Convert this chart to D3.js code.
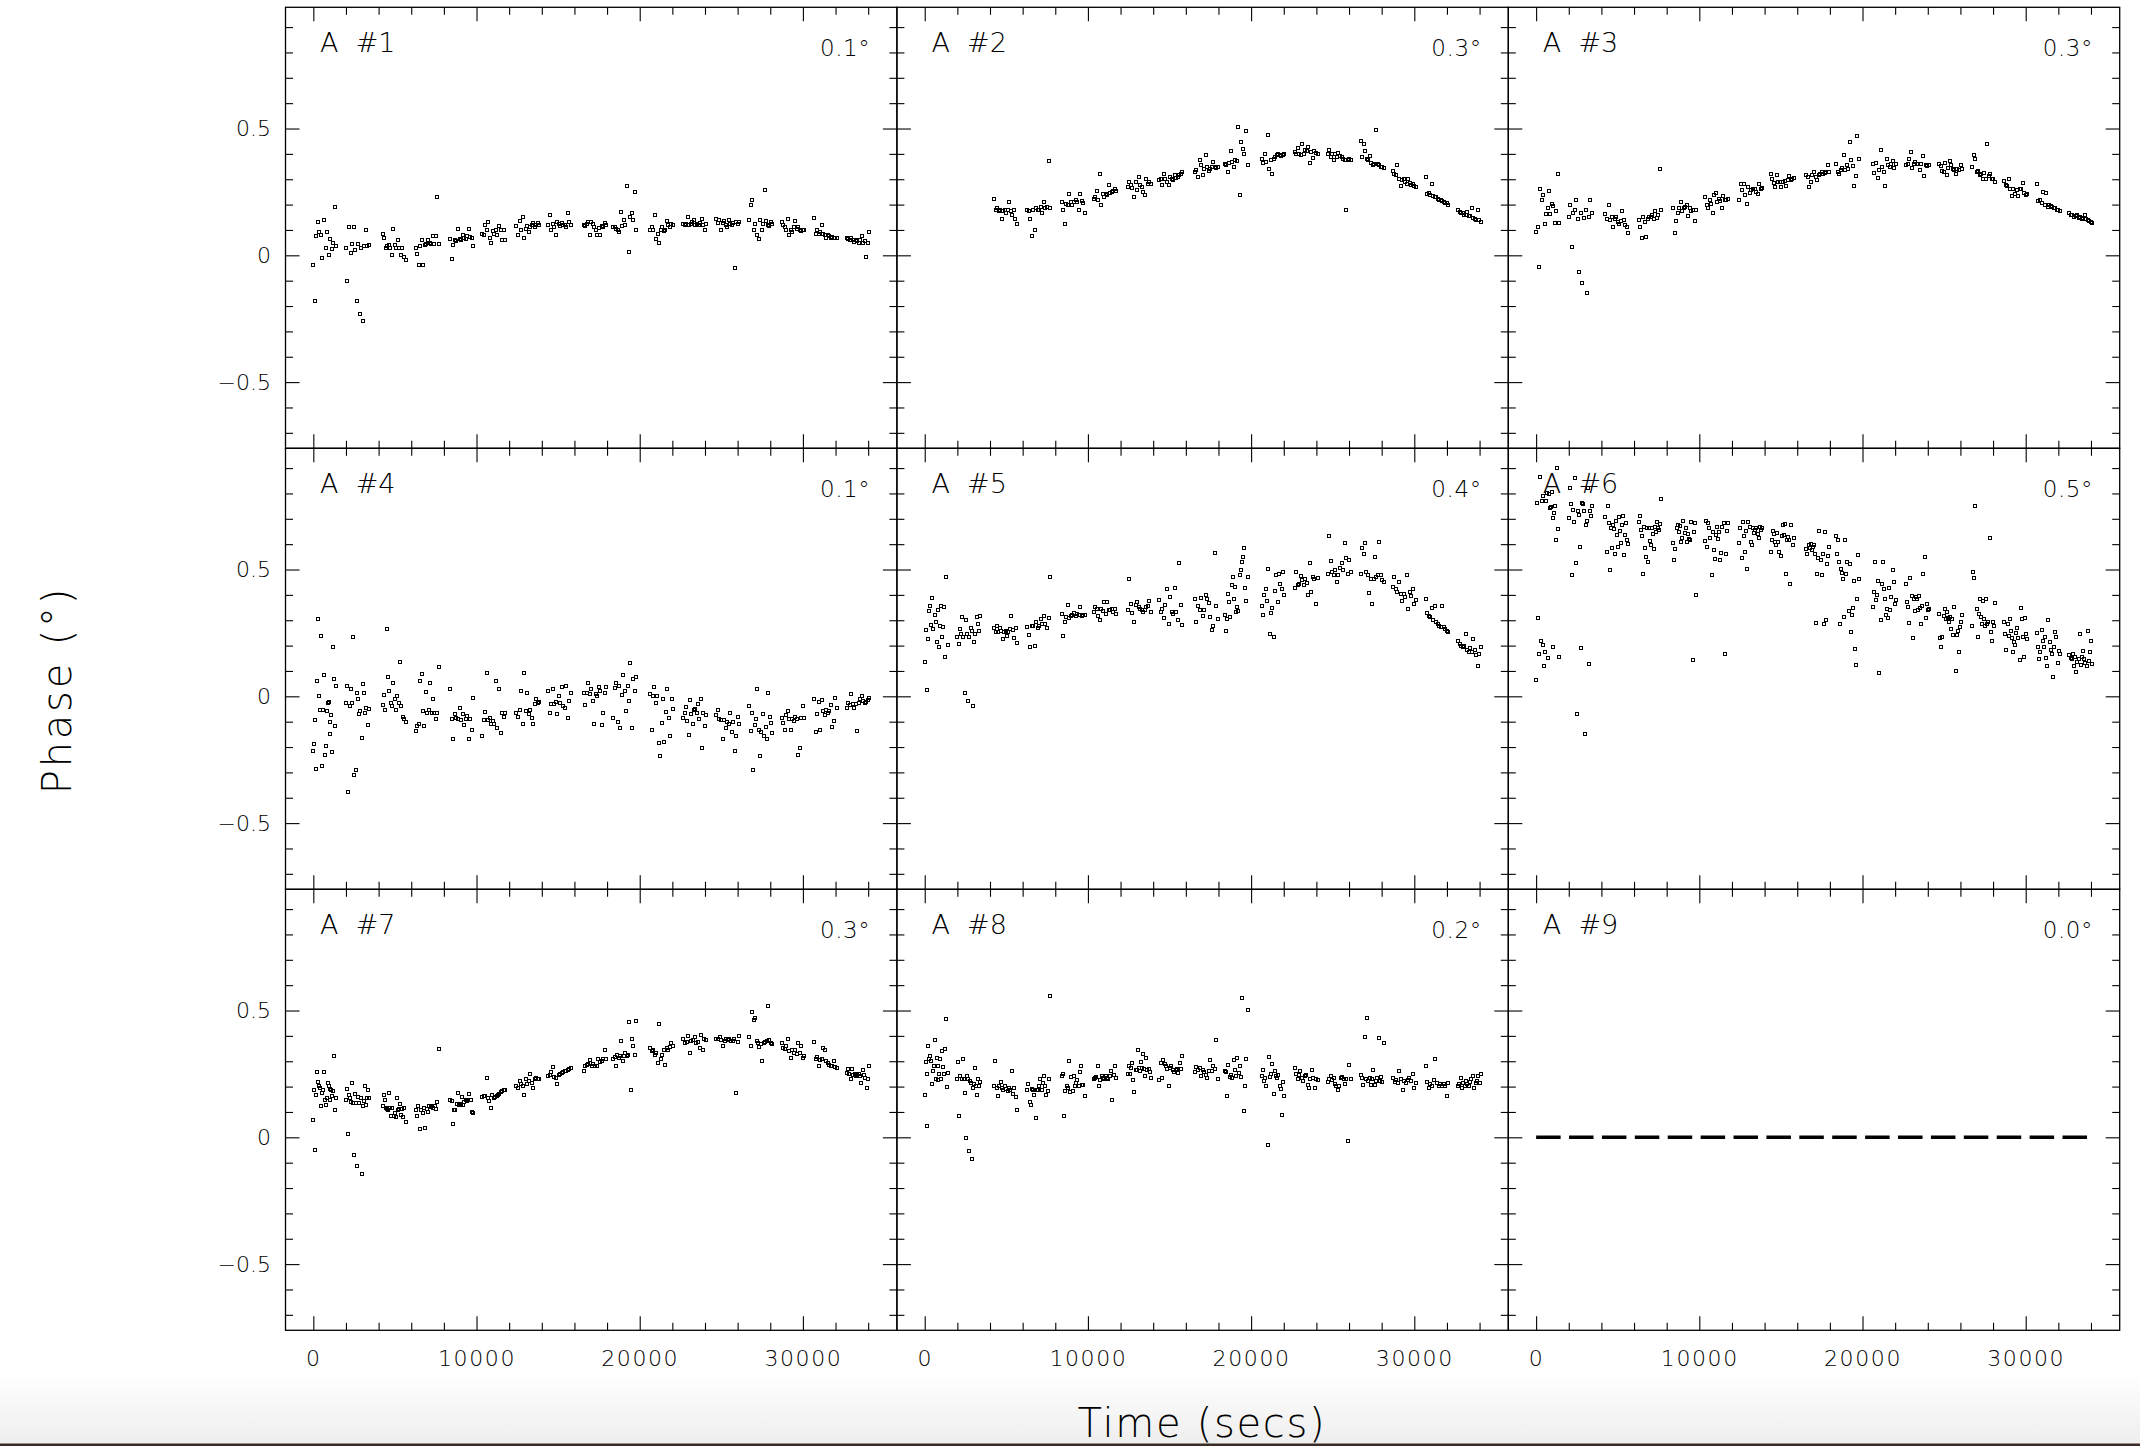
<!DOCTYPE html>
<html><head><meta charset="utf-8">
<script src="https://cdn.jsdelivr.net/npm/d3@7"></script>
<style>
html,body{margin:0;padding:0;background:#fff;}
svg{display:block;}
text{font-family:"DejaVu Sans","Lato",sans-serif;font-weight:200;fill:#000;}
</style></head><body>
<script>
// ---------------- DATA ----------------
const panelLabels = ["A  #1","A  #2","A  #3","A  #4","A  #5","A  #6","A  #7","A  #8","A  #9"];
const panelRms = ["0.1°","0.3°","0.3°","0.1°","0.4°","0.5°","0.3°","0.2°","0.0°"];
const xMajorTicks = [0, 10000, 20000, 30000];
const xMinorTicks = [2000,4000,6000,8000,12000,14000,16000,18000,22000,24000,26000,28000,32000,34000];
const yMajorTicks = [-0.5, 0, 0.5];
const yMinorTicks = [-0.7,-0.6,-0.4,-0.3,-0.2,-0.1,0.1,0.2,0.3,0.4,0.6,0.7,0.8,0.9];
const xTitle = "Time (secs)";
const yTitle = "Phase (°)";
// start time (s) of each scan; every scan lasts scanLength seconds
const scanStarts = [0,2000,4250,6280,8400,10350,12450,14380,16560,18380,20640,22670,24700,26720,28690,30690,32680];
const scanLength = 1400;
// phase (deg) samples per scan, per antenna
const a1 = [
[-0.04,-0.18,0.075,0.13,0.09,0.08,-0.01,0.14,0.03,0.09,0.0,0.065,0.025,0.05,0.19,0.035],
[0.03,-0.10,0.11,0.01,0.045,0.11,0.02,-0.18,0.045,-0.23,0.03,-0.26,0.035,0.10,0.035,0.04],
[0.085,0.07,0.03,0.035,0.04,0.03,0.0,0.105,0.04,0.03,0.06,0.03,0.0,0.03,-0.005,-0.02],
[0.03,0.005,-0.04,0.035,0.06,-0.04,0.04,0.045,0.06,0.05,0.045,0.075,0.045,0.075,0.23,0.045],
[0.065,-0.015,0.04,0.06,0.055,0.105,0.065,0.06,0.08,0.07,0.063,0.075,0.105,0.073,0.07,0.035],
[0.085,0.08,0.12,0.1,0.13,0.07,0.05,0.095,0.085,0.1,0.08,0.115,0.1,0.06,0.1,0.06],
[0.115,0.08,0.135,0.1,0.15,0.07,0.105,0.115,0.093,0.11,0.12,0.128,0.112,0.12,0.128,0.118],
[0.12,0.16,0.1,0.125,0.112,0.082,0.132,0.123,0.115,0.128,0.12,0.118,0.112,0.165,0.132,0.12],
[0.12,0.115,0.123,0.132,0.082,0.132,0.125,0.112,0.1,0.082,0.106,0.082,0.115,0.11,0.128,0.12],
[0.112,0.11,0.105,0.1,0.09,0.17,0.115,0.138,0.12,0.275,0.012,0.15,0.165,0.14,0.25,0.1],
[0.1,0.112,0.1,0.16,0.063,0.086,0.047,0.1,0.112,0.095,0.1,0.136,0.12,0.11,0.125,0.12],
[0.123,0.118,0.125,0.152,0.12,0.123,0.13,0.139,0.12,0.125,0.118,0.128,0.145,0.12,0.1,0.125],
[0.145,0.128,0.139,0.1,0.128,0.136,0.12,0.112,0.139,0.125,0.12,0.128,-0.05,0.132,0.125,0.13],
[0.14,0.2,0.217,0.1,0.125,0.082,0.063,0.139,0.1,0.125,0.257,0.136,0.12,0.115,0.132,0.125],
[0.132,0.12,0.112,0.1,0.145,0.08,0.1,0.092,0.112,0.136,0.105,0.112,0.1,0.095,0.1,0.098],
[0.148,0.086,0.1,0.084,0.09,0.118,0.086,0.08,0.067,0.08,0.075,0.067,0.073,0.07,0.07,0.068],
[0.07,0.065,0.06,0.067,0.062,0.054,0.06,0.055,0.05,0.06,0.076,0.05,0.055,-0.005,0.05,0.09]
];
const a2 = [
[],
[],
[0.224,0.18,0.185,0.175,0.178,0.145,0.175,0.18,0.165,0.178,0.21,0.175,0.158,0.178,0.145,0.125],
[0.178,0.175,0.145,0.076,0.178,0.1,0.185,0.18,0.178,0.19,0.165,0.21,0.185,0.19,0.37,0.185],
[0.21,0.18,0.125,0.204,0.198,0.24,0.21,0.2,0.21,0.217,0.21,0.178,0.243,0.215,0.205,0.168],
[0.224,0.23,0.254,0.217,0.322,0.198,0.24,0.23,0.243,0.237,0.279,0.246,0.25,0.254,0.26,0.254],
[0.27,0.29,0.276,0.266,0.23,0.29,0.257,0.31,0.276,0.27,0.25,0.237,0.302,0.283,0.29,0.28],
[0.296,0.302,0.276,0.322,0.3,0.29,0.276,0.309,0.3,0.296,0.315,0.305,0.309,0.315,0.32,0.329],
[0.329,0.335,0.309,0.377,0.355,0.315,0.342,0.394,0.348,0.332,0.34,0.348,0.368,0.348,0.345,0.35],
[0.359,0.355,0.329,0.364,0.411,0.368,0.348,0.374,0.37,0.505,0.237,0.446,0.42,0.4,0.492,0.355],
[0.381,0.364,0.4,0.368,0.475,0.342,0.374,0.319,0.381,0.387,0.394,0.4,0.394,0.39,0.395,0.4],
[0.407,0.398,0.424,0.4,0.394,0.44,0.4,0.414,0.41,0.427,0.364,0.407,0.385,0.41,0.405,0.4],
[0.4,0.416,0.387,0.4,0.374,0.398,0.387,0.403,0.39,0.387,0.38,0.374,0.178,0.374,0.38,0.375],
[0.45,0.387,0.44,0.41,0.381,0.374,0.39,0.364,0.355,0.361,0.496,0.36,0.355,0.35,0.35,0.346],
[0.332,0.322,0.315,0.357,0.302,0.272,0.296,0.3,0.29,0.283,0.302,0.285,0.276,0.28,0.272,0.27],
[0.309,0.243,0.246,0.237,0.28,0.235,0.23,0.228,0.224,0.22,0.217,0.215,0.21,0.207,0.205,0.2],
[0.178,0.171,0.168,0.165,0.16,0.158,0.171,0.154,0.155,0.185,0.149,0.145,0.139,0.18,0.14,0.132]
];
const a3 = [
[0.09,0.11,-0.047,0.263,0.22,0.237,0.123,0.161,0.185,0.254,0.162,0.204,0.194,0.128,0.175,0.319,0.128],
[0.152,0.198,0.031,0.168,0.18,0.217,0.145,-0.064,0.165,-0.11,0.149,0.178,-0.147,0.152,0.217,0.165],
[0.162,0.145,0.2,0.139,0.152,0.112,0.145,0.15,0.132,0.123,0.136,0.175,0.14,0.12,0.112,0.089],
[0.141,0.112,0.07,0.152,0.132,0.073,0.145,0.15,0.152,0.158,0.145,0.175,0.149,0.158,0.342,0.178],
[0.185,0.089,0.136,0.165,0.188,0.21,0.175,0.185,0.19,0.2,0.154,0.185,0.175,0.18,0.135,0.18],
[0.228,0.2,0.185,0.22,0.204,0.165,0.237,0.246,0.21,0.224,0.215,0.185,0.233,0.217,0.22,0.222],
[0.22,0.28,0.257,0.283,0.237,0.204,0.27,0.246,0.257,0.263,0.26,0.25,0.243,0.283,0.263,0.265],
[0.319,0.302,0.285,0.27,0.315,0.29,0.288,0.27,0.29,0.293,0.272,0.296,0.311,0.298,0.3,0.306],
[0.315,0.309,0.27,0.29,0.315,0.329,0.309,0.296,0.315,0.322,0.329,0.32,0.325,0.33,0.355,0.33],
[0.359,0.329,0.322,0.335,0.346,0.394,0.335,0.357,0.34,0.446,0.374,0.351,0.274,0.313,0.469,0.381],
[0.359,0.325,0.364,0.306,0.335,0.416,0.348,0.329,0.272,0.381,0.355,0.35,0.361,0.372,0.346,0.36],
[0.355,0.361,0.381,0.407,0.346,0.361,0.368,0.359,0.36,0.338,0.359,0.39,0.314,0.355,0.351,0.355],
[0.359,0.351,0.332,0.329,0.364,0.315,0.346,0.372,0.355,0.34,0.338,0.322,0.342,0.335,0.355,0.34],
[0.348,0.394,0.381,0.329,0.332,0.315,0.319,0.302,0.325,0.302,0.44,0.311,0.319,0.302,0.3,0.29],
[0.293,0.276,0.272,0.302,0.263,0.233,0.263,0.243,0.257,0.233,0.26,0.263,0.285,0.245,0.237,0.24],
[0.283,0.215,0.22,0.207,0.25,0.198,0.246,0.19,0.198,0.195,0.19,0.188,0.185,0.18,0.178,0.175],
[0.165,0.16,0.158,0.152,0.155,0.158,0.149,0.15,0.145,0.148,0.158,0.142,0.139,0.135,0.13,0.128]
];
const a4 = [
[-0.217,-0.19,-0.094,-0.286,0.06,0.306,0.0,-0.054,0.238,-0.274,-0.052,0.083,-0.23,-0.197,-0.058,-0.025,-0.022,-0.1,-0.15,-0.075,-0.22,0.194,0.07,-0.118,0.04],
[-0.025,0.04,-0.377,-0.04,0.03,-0.025,0.234,-0.31,-0.292,0.015,-0.01,-0.071,-0.058,-0.164,0.048,0.015,-0.065,-0.045,-0.115,-0.049],
[-0.036,0.004,-0.052,0.266,0.078,0.021,-0.025,-0.038,0.052,-0.012,-0.052,0.0,-0.025,0.135,-0.038,-0.081,-0.089,-0.1],
[-0.138,-0.118,-0.111,0.06,0.087,-0.058,-0.118,0.017,-0.065,-0.052,0.054,-0.065,-0.012,-0.065,-0.091,-0.065,0.115],
[0.029,-0.089,-0.168,-0.071,-0.085,-0.089,-0.045,-0.094,-0.071,-0.115,-0.089,-0.078,-0.17,-0.089,-0.131,-0.005],
[-0.155,-0.094,-0.062,0.091,-0.094,-0.085,-0.111,-0.098,-0.111,0.061,-0.124,0.028,-0.144,-0.065,-0.08,-0.065],
[-0.065,-0.081,-0.052,0.021,-0.111,0.091,-0.058,0.012,-0.071,-0.052,-0.085,-0.111,-0.032,-0.009,-0.025,-0.022],
[0.021,-0.065,-0.032,0.03,-0.032,-0.022,-0.071,0.0,-0.025,0.038,-0.038,-0.045,0.041,-0.085,-0.019,0.015],
[0.015,-0.036,0.015,0.052,0.008,0.03,-0.019,-0.111,0.008,0.0,0.038,0.021,-0.115,-0.065,0.012,0.038],
[-0.085,0.034,0.052,-0.102,0.041,-0.124,0.004,0.083,0.021,-0.058,0.041,-0.019,0.131,-0.124,0.067,0.021,0.078],
[0.008,-0.134,0.0,0.038,-0.025,0.0,-0.186,-0.237,-0.104,-0.012,-0.181,-0.062,0.028,-0.085,-0.157,-0.012,-0.049],
[-0.085,-0.065,-0.041,-0.098,-0.151,-0.015,-0.071,-0.111,-0.052,-0.049,-0.065,-0.032,-0.091,-0.009,-0.204,-0.065,-0.118,-0.075],
[-0.075,-0.052,-0.091,-0.094,-0.168,-0.094,-0.124,-0.102,-0.111,-0.065,-0.141,-0.102,-0.217,-0.157,-0.081,-0.11],
[-0.038,-0.138,-0.065,-0.292,-0.115,-0.091,0.028,-0.131,-0.237,-0.141,-0.071,-0.157,-0.12,-0.168,0.015,-0.081,-0.104,-0.144],
[-0.085,-0.107,-0.134,-0.075,-0.058,-0.089,-0.134,-0.091,-0.098,-0.081,-0.09,-0.23,-0.204,-0.085,-0.038,-0.085],
[-0.012,-0.141,-0.071,-0.022,-0.134,-0.015,-0.058,-0.075,-0.052,-0.065,-0.058,-0.036,-0.122,-0.098,-0.005,-0.045],
[-0.045,-0.025,-0.036,0.008,-0.032,-0.045,-0.03,-0.138,-0.025,-0.012,0.001,-0.02,-0.025,-0.022,-0.015,-0.005]
];
const a5 = [
[0.134,0.262,0.024,0.226,0.335,0.357,0.282,0.389,0.266,0.321,0.292,0.213,0.341,0.194,0.279,0.356,0.233,0.275,0.352,0.155,0.472,0.204],
[0.233,0.206,0.266,0.246,0.312,0.233,0.015,0.299,0.246,-0.02,0.233,0.269,0.259,-0.037,0.213,0.246,0.312,0.286,0.259,0.316],
[0.269,0.255,0.279,0.253,0.269,0.259,0.226,0.255,0.259,0.237,0.255,0.266,0.316,0.263,0.229,0.269,0.21],
[0.272,0.242,0.196,0.276,0.279,0.198,0.295,0.269,0.279,0.306,0.286,0.316,0.284,0.269,0.308,0.47],
[0.325,0.237,0.292,0.312,0.361,0.308,0.316,0.321,0.329,0.316,0.325,0.319,0.352,0.316,0.319,0.32],
[0.332,0.352,0.343,0.316,0.299,0.345,0.335,0.372,0.325,0.372,0.339,0.34,0.345,0.332,0.345,0.325],
[0.339,0.464,0.365,0.329,0.295,0.361,0.372,0.352,0.345,0.339,0.332,0.339,0.352,0.358,0.374,0.332],
[0.378,0.332,0.343,0.308,0.361,0.422,0.286,0.392,0.332,0.325,0.427,0.332,0.299,0.524,0.361,0.282],
[0.382,0.292,0.358,0.339,0.388,0.316,0.339,0.401,0.385,0.369,0.312,0.263,0.279,0.567,0.358,0.306],
[0.321,0.259,0.303,0.405,0.372,0.312,0.438,0.471,0.382,0.431,0.332,0.352,0.335,0.48,0.497,0.53,0.55,0.583,0.427,0.374,0.471],
[0.356,0.319,0.398,0.422,0.374,0.501,0.246,0.329,0.348,0.233,0.414,0.478,0.372,0.484,0.444,0.425,0.491,0.398],
[0.427,0.491,0.438,0.444,0.475,0.458,0.438,0.462,0.448,0.401,0.524,0.411,0.471,0.464,0.365,0.467],
[0.484,0.634,0.533,0.491,0.478,0.497,0.451,0.478,0.507,0.524,0.497,0.603,0.544,0.484,0.537,0.491],
[0.484,0.586,0.563,0.603,0.491,0.48,0.409,0.464,0.365,0.464,0.55,0.471,0.478,0.61,0.478,0.458,0.451],
[0.431,0.471,0.422,0.411,0.451,0.405,0.374,0.405,0.392,0.478,0.345,0.411,0.396,0.425,0.365,0.38],
[0.382,0.329,0.316,0.312,0.348,0.299,0.356,0.295,0.285,0.279,0.272,0.358,0.272,0.266,0.259,0.253],
[0.22,0.206,0.2,0.193,0.2,0.246,0.184,0.173,0.189,0.176,0.226,0.184,0.163,0.118,0.167,0.193]
];
const a6 = [
[0.065,0.762,0.31,0.167,0.865,0.218,0.771,0.202,0.788,0.12,0.173,0.769,0.802,0.151,0.798,0.742,0.745,0.806,0.702,0.193,0.722,0.749,0.616,0.901,0.66,0.157],
[0.702,0.821,0.758,0.478,0.735,0.687,0.861,0.524,-0.069,0.729,0.716,0.59,0.19,0.762,0.758,0.731,-0.148,0.676,0.692,0.821,0.127,0.729,0.713,0.749],
[0.709,0.57,0.749,0.683,0.5,0.663,0.583,0.676,0.66,0.563,0.692,0.637,0.59,0.709,0.65,0.603,0.676,0.713,0.557,0.637,0.683,0.616,0.599],
[0.687,0.712,0.656,0.632,0.484,0.669,0.583,0.55,0.663,0.528,0.665,0.612,0.597,0.663,0.639,0.579,0.669,0.647,0.689,0.665,0.656,0.679,0.779],
[0.603,0.537,0.581,0.663,0.676,0.647,0.673,0.607,0.623,0.692,0.643,0.663,0.61,0.639,0.62,0.616,0.689,0.143,0.647,0.683,0.398],
[0.612,0.692,0.59,0.683,0.663,0.623,0.478,0.647,0.577,0.541,0.636,0.669,0.62,0.647,0.537,0.567,0.669,0.683,0.167,0.563,0.65,0.683],
[0.603,0.665,0.544,0.689,0.634,0.571,0.652,0.501,0.687,0.669,0.607,0.597,0.663,0.643,0.656,0.665,0.639,0.623,0.669,0.656,0.663],
[0.57,0.616,0.652,0.639,0.607,0.597,0.643,0.61,0.571,0.554,0.634,0.676,0.636,0.679,0.484,0.616,0.63,0.616,0.444,0.676,0.597,0.623],
[0.581,0.563,0.597,0.583,0.599,0.577,0.59,0.597,0.563,0.29,0.484,0.546,0.652,0.537,0.478,0.563,0.286,0.647,0.299,0.52,0.554,0.59],
[0.634,0.563,0.616,0.53,0.286,0.501,0.488,0.462,0.312,0.616,0.484,0.53,0.335,0.52,0.255,0.321,0.348,0.454,0.187,0.123,0.385,0.557,0.462],
[0.352,0.411,0.528,0.378,0.401,0.454,0.091,0.299,0.444,0.53,0.425,0.382,0.319,0.345,0.308,0.427,0.339,0.392,0.497,0.451,0.365,0.378],
[0.444,0.372,0.352,0.29,0.467,0.396,0.229,0.382,0.335,0.392,0.382,0.339,0.396,0.348,0.286,0.358,0.484,0.55,0.308,0.365,0.339,0.345],
[0.325,0.229,0.193,0.233,0.316,0.343,0.306,0.332,0.308,0.295,0.312,0.266,0.303,0.242,0.352,0.1,0.242,0.259,0.173,0.272,0.292,0.321],
[0.279,0.491,0.468,0.749,0.343,0.233,0.325,0.382,0.312,0.286,0.374,0.306,0.279,0.382,0.286,0.295,0.623,0.253,0.22,0.292,0.279,0.369],
[0.295,0.246,0.184,0.286,0.237,0.306,0.259,0.229,0.176,0.216,0.202,0.25,0.269,0.229,0.144,0.348,0.306,0.233,0.157,0.308,0.246,0.226],
[0.25,0.193,0.147,0.173,0.263,0.22,0.193,0.233,0.153,0.118,0.299,0.216,0.184,0.167,0.078,0.193,0.253,0.233,0.131,0.18,0.167],
[0.163,0.153,0.147,0.167,0.12,0.157,0.097,0.134,0.149,0.246,0.123,0.157,0.18,0.147,0.131,0.12,0.259,0.14,0.176,0.22,0.127]
];
const a7 = [
[0.067,0.186,-0.049,0.168,0.257,0.217,0.204,0.195,0.122,0.175,0.188,0.257,0.149,0.129,0.155,0.214,0.204,0.149,0.191,0.186,0.162,0.182,0.32,0.107,0.155],
[0.146,0.192,0.014,0.168,0.155,0.138,0.214,0.136,-0.068,0.172,0.136,-0.112,0.159,0.136,0.155,-0.143,0.122,0.142,0.201,0.129,0.155,0.186,0.155],
[0.122,0.168,0.146,0.116,0.112,0.109,0.175,0.116,0.083,0.116,0.083,0.096,0.08,0.155,0.107,0.112,0.133,0.089,0.112,0.08,0.116,0.059],
[0.107,0.083,0.122,0.033,0.109,0.096,0.116,0.037,0.112,0.099,0.122,0.12,0.125,0.116,0.122,0.112,0.138,0.349],
[0.149,0.142,0.054,0.107,0.107,0.133,0.175,0.129,0.133,0.159,0.129,0.138,0.149,0.142,0.149,0.172,0.149,0.099,0.096],
[0.159,0.164,0.162,0.234,0.155,0.142,0.116,0.168,0.155,0.159,0.164,0.168,0.172,0.178,0.182,0.186,0.186],
[0.201,0.195,0.221,0.212,0.204,0.168,0.228,0.212,0.221,0.251,0.214,0.195,0.228,0.234,0.23,0.228],
[0.243,0.247,0.257,0.278,0.238,0.234,0.212,0.247,0.251,0.254,0.256,0.261,0.261,0.264,0.27,0.274],
[0.261,0.28,0.287,0.291,0.304,0.283,0.291,0.283,0.28,0.307,0.296,0.3,0.307,0.343,0.309],
[0.309,0.317,0.283,0.326,0.313,0.32,0.379,0.3,0.32,0.333,0.322,0.326,0.454,0.186,0.386,0.362,0.326,0.458],
[0.353,0.339,0.346,0.326,0.333,0.293,0.445,0.309,0.326,0.346,0.287,0.353,0.346,0.357,0.372,0.359],
[0.388,0.37,0.375,0.401,0.333,0.379,0.383,0.396,0.372,0.375,0.353,0.405,0.343,0.388,0.383],
[0.388,0.386,0.396,0.383,0.362,0.379,0.388,0.383,0.388,0.38,0.379,0.386,0.175,0.375,0.399],
[0.396,0.362,0.493,0.464,0.471,0.379,0.372,0.357,0.366,0.3,0.37,0.375,0.379,0.517,0.383,0.37,0.366],
[0.372,0.353,0.349,0.359,0.386,0.339,0.313,0.346,0.333,0.343,0.33,0.372,0.333,0.359,0.313,0.32],
[0.376,0.307,0.317,0.283,0.304,0.307,0.353,0.343,0.3,0.293,0.287,0.28,0.283,0.3,0.278,0.274],
[0.254,0.27,0.251,0.23,0.27,0.247,0.251,0.241,0.247,0.251,0.241,0.214,0.264,0.247,0.234,0.195,0.228,0.28]
];
const a8 = [
[0.168,0.296,0.251,0.046,0.362,0.307,0.322,0.3,0.212,0.261,0.283,0.383,0.23,0.313,0.225,0.28,0.251,0.309,0.23,0.339,0.278,0.251,0.349,0.467,0.199,0.254],
[0.228,0.296,0.086,0.243,0.23,0.309,0.228,0.175,-0.003,0.243,0.228,-0.055,0.221,0.214,-0.086,0.195,0.212,0.274,0.204,0.168,0.228,0.201,0.217],
[0.204,0.3,0.195,0.164,0.201,0.217,0.195,0.186,0.204,0.191,0.182,0.195,0.188,0.261,0.172,0.195,0.159,0.107],
[0.186,0.212,0.138,0.129,0.191,0.186,0.168,0.076,0.186,0.186,0.204,0.23,0.188,0.214,0.243,0.204,0.168,0.182,0.23,0.559],
[0.241,0.251,0.086,0.182,0.201,0.195,0.3,0.178,0.238,0.182,0.243,0.204,0.214,0.225,0.204,0.257,0.283,0.208,0.208,0.164],
[0.228,0.234,0.238,0.28,0.201,0.225,0.243,0.234,0.228,0.243,0.234,0.228,0.241,0.261,0.146,0.247,0.28,0.234],
[0.251,0.28,0.251,0.274,0.293,0.225,0.178,0.267,0.264,0.343,0.274,0.261,0.296,0.274,0.33,0.27,0.243,0.313,0.264,0.27,0.257,0.234],
[0.225,0.293,0.234,0.304,0.291,0.28,0.27,0.201,0.274,0.28,0.267,0.257,0.264,0.27,0.254,0.293,0.27,0.322],
[0.257,0.278,0.267,0.274,0.243,0.264,0.257,0.247,0.234,0.261,0.304,0.261,0.283,0.27,0.383,0.228],
[0.261,0.257,0.164,0.287,0.238,0.247,0.234,0.304,0.264,0.243,0.313,0.254,0.28,0.238,0.55,0.103,0.204,0.309,0.501],
[0.243,0.267,0.221,0.234,0.204,-0.029,0.317,0.238,0.251,0.291,0.172,0.261,0.243,0.234,0.247,0.201,0.191,0.089,0.217,0.164],
[0.274,0.251,0.23,0.247,0.261,0.234,0.221,0.241,0.247,0.208,0.195,0.23,0.267,0.234,0.195,0.23,0.225],
[0.217,0.23,0.241,0.225,0.234,0.212,0.201,0.188,0.204,0.234,0.238,0.228,0.212,0.23,-0.016,0.287,0.228],
[0.247,0.234,0.208,0.396,0.228,0.471,0.221,0.234,0.208,0.228,0.267,0.208,0.221,0.234,0.392,0.221,0.238,0.217,0.37],
[0.234,0.217,0.225,0.214,0.261,0.228,0.186,0.221,0.214,0.225,0.234,0.221,0.251,0.195,0.214],
[0.28,0.217,0.195,0.212,0.204,0.225,0.309,0.214,0.204,0.212,0.201,0.212,0.204,0.162,0.214],
[0.204,0.212,0.234,0.195,0.214,0.204,0.221,0.212,0.201,0.217,0.23,0.241,0.195,0.214,0.221,0.243,0.214,0.251]
];
// antenna 9 is the reference: constant zero phase over the whole track
const a9Times = [0, 34100];
const a9Phase = [0, 0];
const antennas = [a1, a2, a3, a4, a5, a6, a7, a8, null];

// ---------------- LAYOUT ----------------
const W = 2140, H = 1446;
const gridLeft = 285.5, gridTop = 7.3, panelW = 611.4, panelH = 441;
const xDomain = [-1705, 35760], yDomain = [-0.761, 0.978];

const svg = d3.select("body").append("svg").attr("width", W).attr("height", H);

// bottom screenshot shading
const defs = svg.append("defs");
const grad = defs.append("linearGradient").attr("id","shade").attr("x1",0).attr("y1",0).attr("x2",0).attr("y2",1);
grad.append("stop").attr("offset","0").attr("stop-color","#ffffff");
grad.append("stop").attr("offset","1").attr("stop-color","#eeeeee");
svg.append("rect").attr("x",0).attr("y",1372).attr("width",W).attr("height",72).attr("fill","url(#shade)");
svg.append("rect").attr("x",0).attr("y",1443.5).attr("width",W).attr("height",3).attr("fill","#3a2c24");

const x = d3.scaleLinear().domain(xDomain).range([0, panelW]);
const y = d3.scaleLinear().domain(yDomain).range([panelH, 0]);
const yFmt = d => d === 0 ? "0" : d3.format(".1f")(d);
const xFmt = d3.format("d");

function styleAxis(g) {
  g.select(".domain").remove();
  g.selectAll(".tick line").attr("stroke", "#000").attr("stroke-width", 1.1);
  g.selectAll("text").attr("font-family", null).attr("font-size", null)
    .style("font-size", "22px").attr("fill", "#000");
  g.attr("font-family", null).attr("font-size", null);
}

for (let p = 0; p < 9; p++) {
  const r = Math.floor(p / 3), c = p % 3;
  const g = svg.append("g").attr("transform", `translate(${gridLeft + c * panelW},${gridTop + r * panelH})`);

  // ticks (inward on all four sides)
  const xb = g.append("g").attr("transform", `translate(0,${panelH})`)
    .call(d3.axisBottom(x).tickValues(xMajorTicks).tickSize(-14).tickPadding(20).tickFormat(r === 2 ? xFmt : () => ""))
    .call(styleAxis);
  xb.selectAll("text").style("letter-spacing", "1.6px");
  g.append("g").attr("transform", `translate(0,${panelH})`)
    .call(d3.axisBottom(x).tickValues(xMinorTicks).tickSize(-7.5).tickFormat(() => ""))
    .call(styleAxis);
  g.append("g").call(d3.axisTop(x).tickValues(xMajorTicks).tickSize(-14).tickFormat(() => "")).call(styleAxis);
  g.append("g").call(d3.axisTop(x).tickValues(xMinorTicks).tickSize(-7.5).tickFormat(() => "")).call(styleAxis);
  g.append("g").call(d3.axisLeft(y).tickValues(yMajorTicks).tickSize(-14).tickPadding(14.5).tickFormat(c === 0 ? yFmt : () => "")).call(styleAxis);
  g.append("g").call(d3.axisLeft(y).tickValues(yMinorTicks).tickSize(-7.5).tickFormat(() => "")).call(styleAxis);
  g.append("g").attr("transform", `translate(${panelW},0)`)
    .call(d3.axisRight(y).tickValues(yMajorTicks).tickSize(-14).tickFormat(() => "")).call(styleAxis);
  g.append("g").attr("transform", `translate(${panelW},0)`)
    .call(d3.axisRight(y).tickValues(yMinorTicks).tickSize(-7.5).tickFormat(() => "")).call(styleAxis);

  // frame
  g.append("rect").attr("x", 0).attr("y", 0).attr("width", panelW).attr("height", panelH)
    .attr("fill", "none").attr("stroke", "#000").attr("stroke-width", 1.3);

  // data
  const ant = antennas[p];
  if (ant) {
    const pts = [];
    ant.forEach((scan, s) => {
      const n = scan.length;
      scan.forEach((v, i) => pts.push({ t: scanStarts[s] + (n > 1 ? i * scanLength / (n - 1) : 0), v }));
    });
    g.append("g").attr("shape-rendering", "crispEdges").selectAll("rect").data(pts).join("rect")
      .attr("x", d => x(d.t) - 1.5).attr("y", d => y(d.v) - 1.5)
      .attr("width", 3).attr("height", 3)
      .attr("fill", "none").attr("stroke", "#000").attr("stroke-width", 1);
  } else {
    const line = d3.line().x((d, i) => x(a9Times[i])).y(d => y(d));
    g.append("path").attr("d", line(a9Phase)).attr("fill", "none")
      .attr("stroke", "#000").attr("stroke-width", 3.6).attr("stroke-dasharray", "24.5,8.4");
  }

  // labels
  g.append("text").attr("x", 34.5).attr("y", 44.5).style("font-size", "27px").style("white-space", "pre")
    .text(panelLabels[p]);
  g.append("text").attr("x", panelW - 26.5).attr("y", 48.5).attr("text-anchor", "end")
    .style("font-size", "23px").style("letter-spacing", "0.6px")
    .text(panelRms[p]);
}

// axis titles
svg.append("text").attr("x", 1202).attr("y", 1437).attr("text-anchor", "middle")
  .style("font-size", "40px").style("letter-spacing", "1.7px").text(xTitle);
svg.append("text").attr("transform", "translate(71,690) rotate(-90)").attr("text-anchor", "middle")
  .style("font-size", "40px").style("letter-spacing", "2.8px").text(yTitle);
</script>
</body></html>
